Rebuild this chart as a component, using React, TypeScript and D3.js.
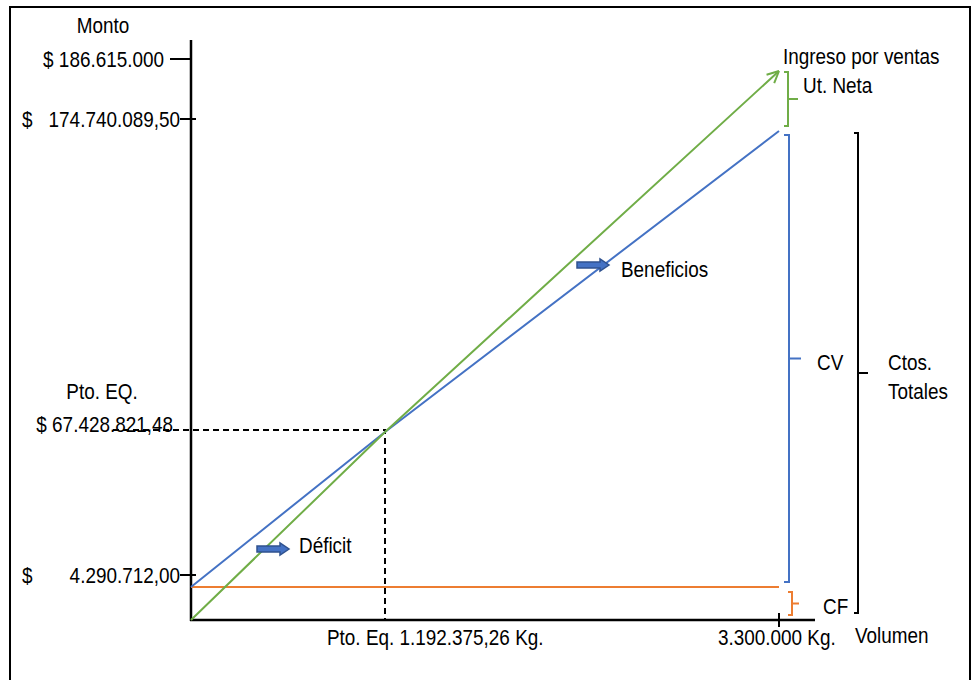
import React from "react";
import * as d3 from "d3";

// punto de equilibrio: datos del gráfico
const volumenes = [0, 1192375.26, 3300000];
const ingresos = [0, 67428821.48, 186615000];
const costosTotales = [4290712, 67428821.48, 174740089.5];
const costoFijo = [4290712, 4290712, 4290712];

const yTickValues = [186615000, 174740089.5, 4290712];
const yTickLabels = ["186.615.000", "174.740.089,50", "4.290.712,00"];
const yTickSplitDollar = [false, true, true];

const peMonto = "$ 67.428.821,48";
const peVolumen = "Pto. Eq. 1.192.375,26 Kg.";
const maxVolumen = "3.300.000 Kg.";

const W = 972;
const H = 680;
const FONT = "'Liberation Sans', Arial, sans-serif";
const NARROW = 0.86;

const GREEN = "#70AD47";
const BLUE = "#4472C4";
const ORANGE = "#ED7D31";

// escalas esquemáticas (el original no está a escala)
const x = d3.scaleLinear().domain(volumenes).range([191, 385, 779]);
const y = d3
  .scaleLinear()
  .domain([0, costoFijo[0], ingresos[1], costosTotales[2], ingresos[2]])
  .range([620, 587, 432, 131, 71]);

function Label({ x, y, text, anchor = "start", size = 22 }: any) {
  return (
    <text
      transform={`translate(${x},${y}) scale(${NARROW},1)`}
      textAnchor={anchor}
      fontFamily={FONT}
      fontSize={size}
      fill="#000"
    >
      {text}
    </text>
  );
}

function bracket(bx: number, y1: number, y2: number, hook = 4, tick = 10) {
  const m = (y1 + y2) / 2;
  return `M${bx - hook},${y1}H${bx}V${y2}H${bx - hook}M${bx},${m}H${bx + tick}`;
}

function BlockArrow({ x0, yc }: any) {
  const pts = [
    [0, -3], [23, -3], [23, -6], [32, 0], [23, 6], [23, 3], [0, 3],
  ].map(([a, b]) => `${x0 + a},${yc + b}`).join(" ");
  return <polygon points={pts} fill={BLUE} stroke="#2F528F" strokeWidth={1.5} />;
}

export default function App() {
  const line = d3
    .line<number>()
    .x((_, i) => x(volumenes[i]))
    .y((d) => y(d));

  const x0 = x(0);
  const yBase = y(0);
  const xEnd = x(volumenes[2]);
  const xPE = x(volumenes[1]);
  const yPE = y(ingresos[1]);

  // punta de flecha de ingresos
  const tipX = x(volumenes[2]);
  const tipY = y(ingresos[2]);
  const ang = Math.atan2(tipY - y(ingresos[1]), tipX - x(volumenes[1]));
  const head = (off: number) =>
    `M${tipX},${tipY}L${tipX - 13 * Math.cos(ang + off)},${tipY - 13 * Math.sin(ang + off)}`;

  const yRev = y(ingresos[2]);
  const yTC = y(costosTotales[2]);
  const yFC = y(costoFijo[0]);

  return (
    <svg
      width={W}
      height={H}
      style={{ position: "absolute", left: 0, top: 0, background: "#fff" }}
    >
      <rect x={10} y={7} width={960} height={685} fill="#fff" stroke="#000" strokeWidth={2} />

      {/* ejes */}
      <line x1={x0} y1={40} x2={x0} y2={yBase + 1} stroke="#000" strokeWidth={2.5} />
      <line x1={x0 - 1} y1={yBase} x2={815} y2={yBase} stroke="#000" strokeWidth={2.5} />
      <line x1={xEnd} y1={yBase - 7} x2={xEnd} y2={yBase + 7} stroke="#000" strokeWidth={2} />

      {yTickValues.map((v, i) => {
        const ty = y(v) - 12;
        const right = yTickSplitDollar[i] ? x0 + 5 : x0 + 1;
        const left = yTickSplitDollar[i] ? x0 - 11 : x0 - 21;
        return (
          <g key={i}>
            <line x1={left} y1={ty} x2={right} y2={ty} stroke="#000" strokeWidth={2} />
            {yTickSplitDollar[i] ? (
              <>
                <Label x={22} y={ty + 8} text="$" />
                <Label x={180} y={ty + 8} text={yTickLabels[i]} anchor="end" />
              </>
            ) : (
              <Label x={164} y={ty + 8} text={"$ " + yTickLabels[i]} anchor="end" />
            )}
          </g>
        );
      })}

      {/* punto de equilibrio */}
      <path
        d={`M113,${yPE - 2}H${xPE}V${yBase}`}
        fill="none"
        stroke="#000"
        strokeWidth={2}
        strokeDasharray="6,4"
      />

      {/* líneas */}
      <path d={line(costoFijo) || ""} fill="none" stroke={ORANGE} strokeWidth={2} />
      <path d={line(costosTotales) || ""} fill="none" stroke={BLUE} strokeWidth={2} />
      <path d={line(ingresos) || ""} fill="none" stroke={GREEN} strokeWidth={2} />
      <path d={head(0.45) + head(-0.45)} fill="none" stroke={GREEN} strokeWidth={2} />

      {/* llaves */}
      <path d={bracket(788, yRev + 1, yTC - 5)} fill="none" stroke={GREEN} strokeWidth={2} />
      <path d={bracket(789, yTC + 4, yFC - 5, 5, 12)} fill="none" stroke={BLUE} strokeWidth={2} />
      <path d={bracket(792, yFC + 5, yBase - 5, 4, 7)} fill="none" stroke={ORANGE} strokeWidth={2} />
      <path d={bracket(858, yTC + 2, yBase - 7, 4, 10)} fill="none" stroke="#000" strokeWidth={2} />

      <BlockArrow x0={257} yc={549} />
      <BlockArrow x0={577} yc={265} />

      {/* textos */}
      <Label x={103} y={33} text="Monto" anchor="middle" />
      <Label x={102} y={399} text="Pto. EQ." anchor="middle" />
      <Label x={173} y={yPE} text={peMonto} anchor="end" />
      <Label x={327} y={645} text={peVolumen} />
      <Label x={718} y={645} text={maxVolumen} />
      <Label x={855} y={643} text="Volumen" />
      <Label x={783} y={64} text="Ingreso por ventas" />
      <Label x={803} y={93} text="Ut. Neta" />
      <Label x={621} y={277} text="Beneficios" />
      <Label x={299} y={553} text="Déficit" />
      <Label x={817} y={370} text="CV" />
      <Label x={888} y={370} text="Ctos." />
      <Label x={888} y={399} text="Totales" />
      <Label x={823} y={614} text="CF" />
    </svg>
  );
}
